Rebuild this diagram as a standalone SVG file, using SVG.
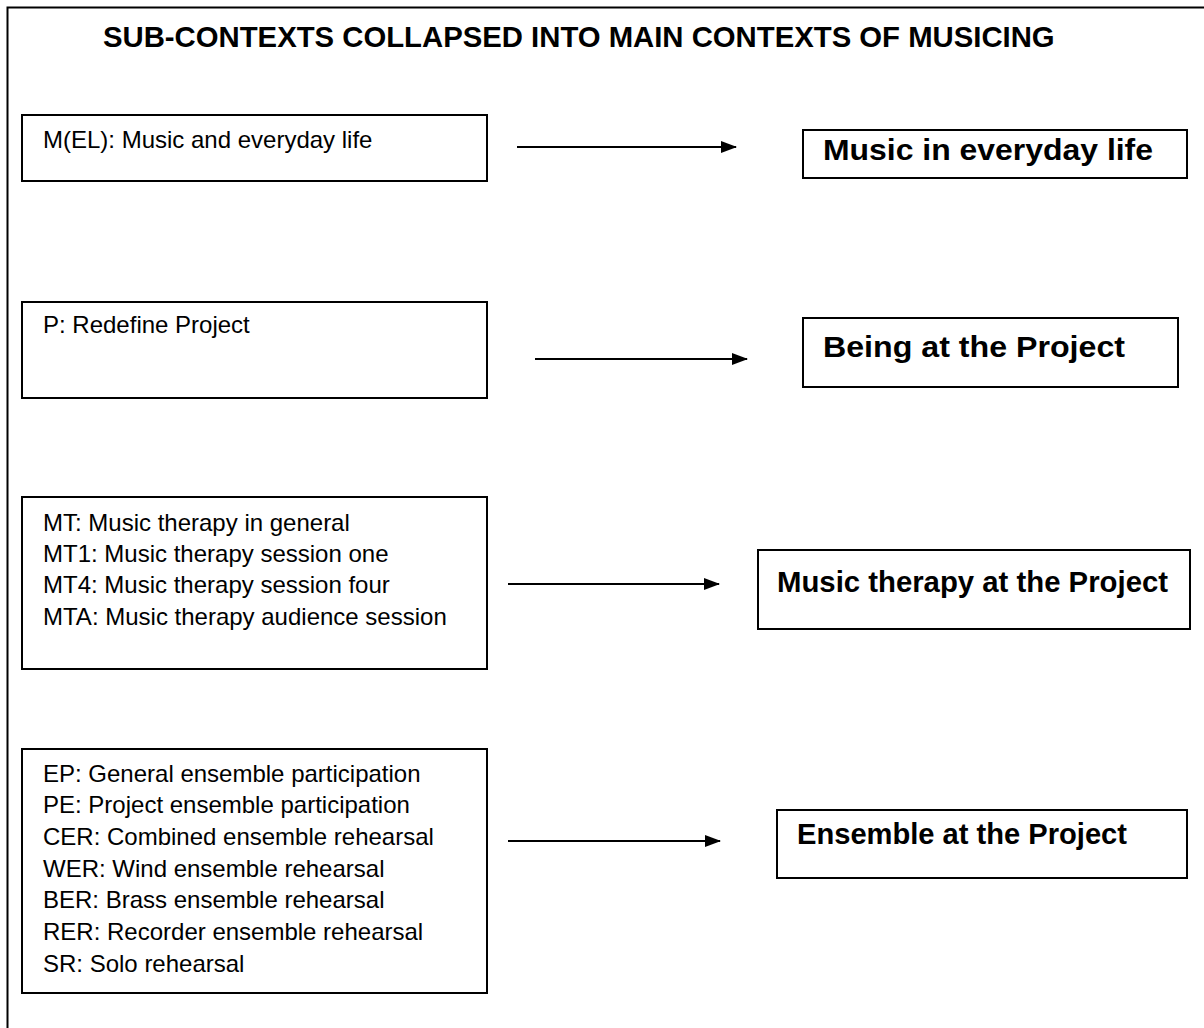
<svg xmlns="http://www.w3.org/2000/svg" width="1204" height="1028" viewBox="0 0 1204 1028">
  <style>
    .frame { fill: none; stroke: #000; stroke-width: 2; }
    .box { fill: #fff; stroke: #000; stroke-width: 2; }
    .sub { font-family: "Liberation Sans", Arial, sans-serif; font-size: 24px; fill: #000; }
    .main { font-family: "Liberation Sans", Arial, sans-serif; font-size: 30px; font-weight: bold; fill: #000; }
    .title { font-family: "Liberation Sans", Arial, sans-serif; font-size: 29.3px; font-weight: bold; fill: #000; }
    .link { stroke: #000; stroke-width: 2; fill: none; marker-end: url(#arrow); }
  </style>
  <defs>
    <marker id="arrow" markerWidth="8" markerHeight="6" refX="7.5" refY="3" orient="auto" markerUnits="strokeWidth">
      <path d="M0,0 L8,3 L0,6 Z" fill="#000"/>
    </marker>
  </defs>

  <rect width="1204" height="1028" fill="#fff"/>

  <!-- open outer frame: top and left edges only -->
  <path class="frame" d="M7.5,1028 V7.5 H1204"/>

  <text class="title" x="103" y="47">SUB-CONTEXTS COLLAPSED INTO MAIN CONTEXTS OF MUSICING</text>

  <!-- sub-context groups (left) -->
  <g id="sub-mel">
    <rect class="box" x="22" y="115" width="465" height="66"/>
    <text class="sub" x="43" y="148">M(EL): Music and everyday life</text>
  </g>
  <g id="sub-p">
    <rect class="box" x="22" y="302" width="465" height="96"/>
    <text class="sub" x="43" y="333">P: Redefine Project</text>
  </g>
  <g id="sub-mt">
    <rect class="box" x="22" y="497" width="465" height="172"/>
    <text class="sub" x="43" y="531">MT: Music therapy in general</text>
    <text class="sub" x="43" y="562">MT1: Music therapy session one</text>
    <text class="sub" x="43" y="593">MT4: Music therapy session four</text>
    <text class="sub" x="43" y="625">MTA: Music therapy audience session</text>
  </g>
  <g id="sub-ens">
    <rect class="box" x="22" y="749" width="465" height="244"/>
    <text class="sub" x="43" y="782">EP: General ensemble participation</text>
    <text class="sub" x="43" y="813">PE: Project ensemble participation</text>
    <text class="sub" x="43" y="845">CER: Combined ensemble rehearsal</text>
    <text class="sub" x="43" y="877">WER: Wind ensemble rehearsal</text>
    <text class="sub" x="43" y="908">BER: Brass ensemble rehearsal</text>
    <text class="sub" x="43" y="940">RER: Recorder ensemble rehearsal</text>
    <text class="sub" x="43" y="972">SR: Solo rehearsal</text>
  </g>

  <!-- main contexts (right) -->
  <g id="main-everyday">
    <rect class="box" x="803" y="130" width="384" height="48"/>
    <text class="main" x="823" y="160" textLength="330" lengthAdjust="spacingAndGlyphs">Music in everyday life</text>
  </g>
  <g id="main-project">
    <rect class="box" x="803" y="318" width="375" height="69"/>
    <text class="main" x="823" y="357" textLength="302" lengthAdjust="spacingAndGlyphs">Being at the Project</text>
  </g>
  <g id="main-therapy">
    <rect class="box" x="758" y="550" width="432" height="79"/>
    <text class="main" x="777" y="592" textLength="391" lengthAdjust="spacingAndGlyphs">Music therapy at the Project</text>
  </g>
  <g id="main-ensemble">
    <rect class="box" x="777" y="810" width="410" height="68"/>
    <text class="main" x="797" y="844" textLength="330" lengthAdjust="spacingAndGlyphs">Ensemble at the Project</text>
  </g>

  <!-- connectors -->
  <g id="connectors">
    <line class="link" x1="517" y1="147" x2="736" y2="147"/>
    <line class="link" x1="535" y1="359" x2="747" y2="359"/>
    <line class="link" x1="508" y1="584" x2="719" y2="584"/>
    <line class="link" x1="508" y1="841" x2="720" y2="841"/>
  </g>
</svg>
